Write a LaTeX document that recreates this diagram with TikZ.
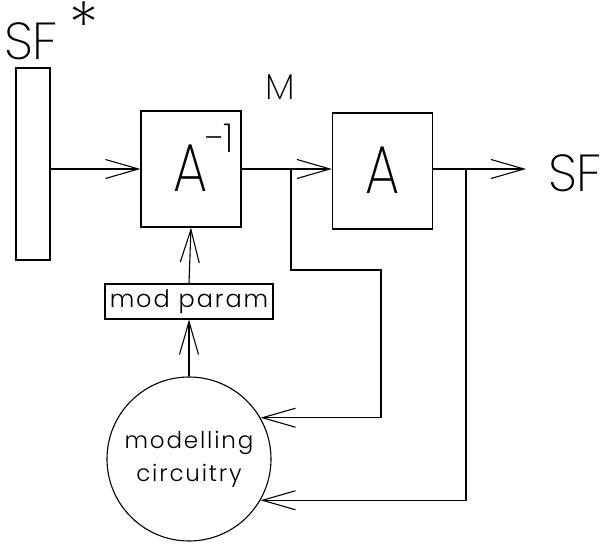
\documentclass[tikz,border=0pt]{standalone}
\usepackage{fontspec}
\setmainfont{Poppins Light}
\newfontfamily\thinfont{Poppins ExtraLight}
\usetikzlibrary{arrows.meta}
\begin{document}
\begin{tikzpicture}[x=1pt,y=1pt,
  wire/.style={line width=1.1pt},
  >={Straight Barb[length=33pt,width=19pt,line width=1.1pt]},
  blockbox/.style={draw,line width=1.1pt,minimum width=100pt,minimum height=116pt,inner sep=0pt},
  lbl/.style={inner sep=0pt}]
\useasboundingbox (0,0) rectangle (602,545);
% input bar
\node[draw,line width=1.1pt,minimum width=34pt,minimum height=192pt,inner sep=0pt] (bar) at (33,381) {};
\node[lbl,font=\thinfont\fontsize{52}{52}\selectfont] (sfin) at (31,504) {SF};
\node[lbl,font=\thinfont\fontsize{64}{64}\selectfont] (star) at (84,520) {*};
% blocks
\node[blockbox] (ainv) at (191,376) {};
\node[lbl,font=\thinfont\fontsize{68}{68}\selectfont,xscale=0.8] (ainvA) at (191,377) {A};
\node[lbl,font=\thinfont\fontsize{40}{40}\selectfont] (ainvexp) at (219,407) {−1};
\node[blockbox] (ablk) at (382.5,374) {};
\node[lbl,font=\thinfont\fontsize{68}{68}\selectfont,xscale=0.8] (ablkA) at (383,375) {A};
\node[lbl,font=\thinfont\fontsize{36}{36}\selectfont] (mlab) at (280,458) {M};
\node[lbl,font=\thinfont\fontsize{52}{52}\selectfont] (sfout) at (575,372) {SF};
% mod param
\node[draw,line width=1.1pt,minimum width=168pt,minimum height=35pt,inner sep=0pt,font=\fontsize{24}{24}\selectfont\addfontfeature{LetterSpace=8}] (mod) at (189,243.5) {mod\hspace{9pt}param};
% circle
\node[draw,circle,line width=1.1pt,minimum size=164pt,inner sep=0pt,align=center,font=\fontsize{23}{33}\selectfont\addfontfeature{LetterSpace=8}] (circ) at (189,86) {modelling\\circuitry};
% coordinates
\coordinate (j1) at (291,376);
\coordinate (j1a) at (291,275);
\coordinate (j1b) at (381,275);
\coordinate (j2) at (466,376);
\coordinate (sfend) at (526,376);
% connectors
\draw[wire,->] (bar.east |- 0,376) -- (ainv.west |- 0,376);
\draw[wire,->] (ainv.east |- 0,376) -- (ablk.west |- 0,376);
\draw[wire,->] (ablk.east |- 0,376) -- (sfend);
\draw[wire,->] (mod.north) -- (ainv.south);
\draw[wire,->] (circ.north) -- (mod.south);
\draw[wire,->] (j1) -- (j1a) -- (j1b) |- (circ.30.8);
\draw[wire,->] (j2) |- (circ.-30.8);
\end{tikzpicture}
\end{document}
